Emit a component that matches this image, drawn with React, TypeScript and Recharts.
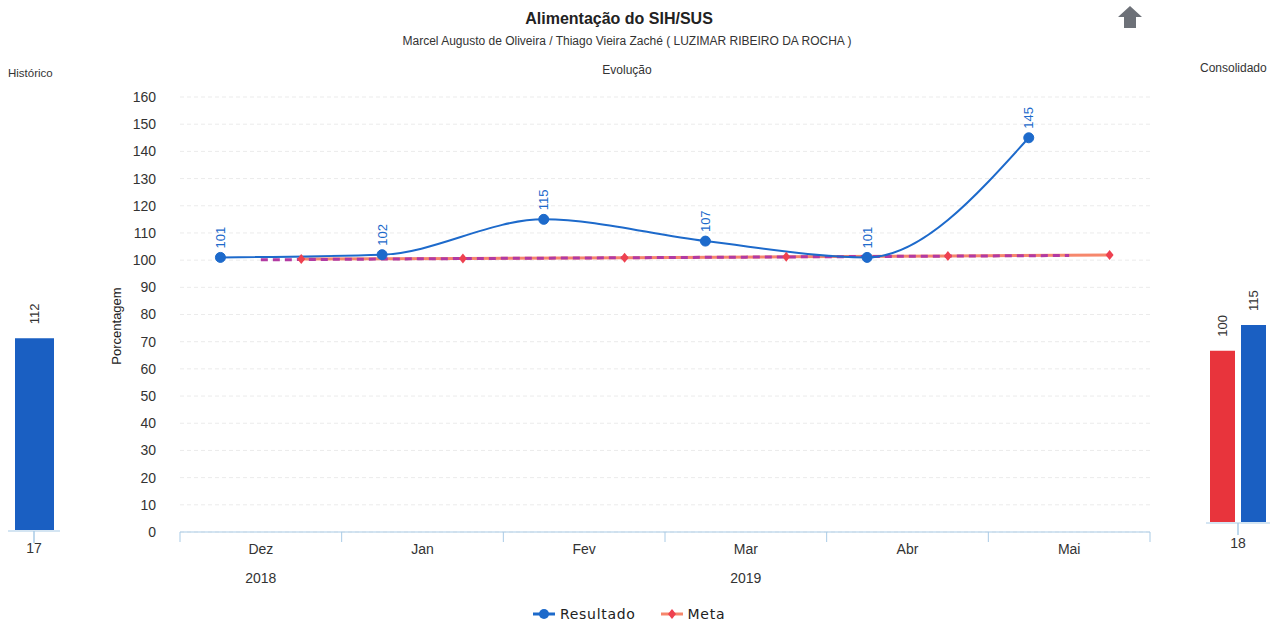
import { LineChart, Line, BarChart, Bar, XAxis, YAxis, CartesianGrid } from 'recharts'

const months = ['Dez', 'Jan', 'Fev', 'Mar', 'Abr', 'Mai']
const years = ['2018', '2019']
const yearAt = [0.5, 3.5]
const resultado = [101, 102, 115, 107, 101, 145]
const meta = [100.4, 100.6, 100.9, 101.2, 101.5, 101.9]
const metaTrend = [100.1, 100.5, 100.8, 101.1, 101.4, 101.7]
const yTicks = [0, 10, 20, 30, 40, 50, 60, 70, 80, 90, 100, 110, 120, 130, 140, 150, 160]
const xTicks = [0, 0.5, 1, 1.5, 2, 2.5, 3, 3.5, 4, 4.5, 5, 5.5, 6]

const historicoLabel = '17'
const historicoValue = 112
const consolidadoLabel = '18'
const consolidadoMeta = 100
const consolidadoResultado = 115

// resultado sits in the left quarter of each month band, meta in the right quarter
const resultadoData = resultado.map((v, i) => ({ x: i + 0.25, v }))
const metaData = meta.map((v, i) => ({ x: i + 0.75, v }))
const trendData = metaTrend.map((v, i) => ({ x: i + 0.5, v }))

const FONT = '"Liberation Sans", Arial, sans-serif'
const BLUE = '#1d6acb'
const AXIS = '#a9cbe6'

// integer ticks are band edges (tick mark only), half ticks carry month / year text
const MonthTick = (props: any) => {
  const { x, y, payload } = props
  const v = payload.value as number
  if (Number.isInteger(v)) {
    return <line x1={x} y1={y} x2={x} y2={y + 10} stroke={AXIS} />
  }
  const yi = yearAt.indexOf(v)
  return (
    <g fontFamily={FONT} fontSize={14} fill="#333">
      <text x={x} y={y + 22} textAnchor="middle">
        {months[Math.floor(v)]}
      </text>
      {yi >= 0 && (
        <text x={x} y={y + 51} textAnchor="middle">
          {years[yi]}
        </text>
      )}
    </g>
  )
}

const Diamond = (props: any) => {
  const { cx, cy, index } = props
  return (
    <path
      key={`d-${index}`}
      d={`M${cx},${cy - 5} L${cx + 4},${cy} L${cx},${cy + 5} L${cx - 4},${cy} Z`}
      fill="#ee4150"
    />
  )
}

const PointLabel = (props: any) => {
  const { x, y, value, index } = props
  return (
    <text
      key={`l-${index}`}
      x={x}
      y={y - 9}
      transform={`rotate(-90 ${x} ${y - 9})`}
      textAnchor="start"
      dominantBaseline="central"
      fill={BLUE}
      fontSize={13}
      fontFamily={FONT}
    >
      {value}
    </text>
  )
}

const BarTopLabel = (props: any) => {
  const { x, y, width, value } = props
  const cx = x + width / 2
  const ty = y - 14
  return (
    <text
      x={cx}
      y={ty}
      transform={`rotate(-90 ${cx} ${ty})`}
      textAnchor="start"
      dominantBaseline="central"
      fill="#333"
      fontSize={13}
      fontFamily={FONT}
    >
      {value}
    </text>
  )
}

function Evolucao() {
  return (
    <LineChart
      width={1170}
      height={626}
      margin={{ top: 97, right: 20, bottom: 93, left: 100 }}
      style={{ position: 'absolute', left: 0, top: 0 }}
    >
      <CartesianGrid xAxisId="main" vertical={false} stroke="#ebebeb" strokeDasharray="4 3" />
      <XAxis
        xAxisId="main"
        type="number"
        dataKey="x"
        domain={[0, 6]}
        ticks={xTicks}
        interval={0}
        tick={MonthTick}
        tickLine={false}
        tickSize={0}
        tickMargin={0}
        stroke={AXIS}
        height={1}
      />
      <YAxis
        domain={[0, 160]}
        ticks={yTicks}
        width={80}
        axisLine={false}
        tickLine={false}
        tickSize={0}
        tickMargin={24}
        tick={{ fill: '#333', fontSize: 14, fontFamily: FONT }}
      />
      <Line
        xAxisId="main"
        data={metaData}
        dataKey="v"
        type="linear"
        stroke="#f6876c"
        strokeWidth={3}
        dot={Diamond}
        activeDot={false}
        isAnimationActive={false}
      />
      <Line
        xAxisId="main"
        data={trendData}
        dataKey="v"
        type="linear"
        stroke="#b23aa2"
        strokeWidth={3}
        strokeDasharray="7 5"
        dot={false}
        activeDot={false}
        isAnimationActive={false}
      />
      <Line
        xAxisId="main"
        data={resultadoData}
        dataKey="v"
        type="monotone"
        stroke={BLUE}
        strokeWidth={2}
        dot={{ r: 5, fill: BLUE, stroke: BLUE, strokeWidth: 1 }}
        activeDot={false}
        label={PointLabel}
        isAnimationActive={false}
      />
    </LineChart>
  )
}

function Historico() {
  const data = [{ label: historicoLabel, v: historicoValue }]
  return (
    <BarChart
      width={70}
      height={626}
      data={data}
      margin={{ top: 256, right: 10, bottom: 94, left: 8 }}
      style={{ position: 'absolute', left: 0, top: 0 }}
    >
      <XAxis
        xAxisId="edge"
        type="number"
        domain={[0, 1]}
        ticks={[0, 1]}
        tickFormatter={() => ''}
        tickSize={12}
        stroke={AXIS}
        height={1}
      />
      <XAxis
        xAxisId="cat"
        dataKey="label"
        tickLine={false}
        axisLine={false}
        tickSize={0}
        tickMargin={13}
        height={1}
        tick={{ fill: '#333', fontSize: 14, fontFamily: FONT }}
      />
      <YAxis hide domain={[0, 160]} />
      <Bar xAxisId="cat" dataKey="v" fill="#1a5fc2" barSize={39} label={BarTopLabel} isAnimationActive={false} />
    </BarChart>
  )
}

function Consolidado() {
  const data = [{ label: consolidadoLabel, meta: consolidadoMeta, res: consolidadoResultado }]
  return (
    <BarChart
      width={90}
      height={626}
      data={data}
      barGap={6}
      barCategoryGap={4}
      margin={{ top: 248, right: 10, bottom: 102, left: 16 }}
      style={{ position: 'absolute', left: 1190, top: 0 }}
    >
      <XAxis
        xAxisId="edge"
        type="number"
        domain={[0, 1]}
        ticks={[0, 1]}
        tickFormatter={() => ''}
        tickSize={12}
        stroke={AXIS}
        height={1}
      />
      <XAxis
        xAxisId="cat"
        dataKey="label"
        tickLine={false}
        axisLine={false}
        tickSize={0}
        tickMargin={16}
        height={1}
        tick={{ fill: '#333', fontSize: 14, fontFamily: FONT }}
      />
      <YAxis hide domain={[0, 160]} />
      <Bar xAxisId="cat" dataKey="meta" fill="#e8343c" label={BarTopLabel} isAnimationActive={false} />
      <Bar xAxisId="cat" dataKey="res" fill="#1a5fc2" label={BarTopLabel} isAnimationActive={false} />
    </BarChart>
  )
}

function LegendItem({ color, name, diamond }: { color: string; name: string; diamond?: boolean }) {
  return (
    <span style={{ display: 'inline-flex', alignItems: 'center', marginRight: 25 }}>
      <svg width={22} height={12} style={{ marginRight: 5 }}>
        <line x1={0} y1={6} x2={22} y2={6} stroke={color} strokeWidth={3} />
        {diamond ? (
          <path d="M11,1 L15,6 L11,11 L7,6 Z" fill="#ee4150" />
        ) : (
          <circle cx={11} cy={6} r={5} fill={color} />
        )}
      </svg>
      <span style={{ fontFamily: '"DejaVu Sans", sans-serif', fontSize: 14, letterSpacing: 0.7, color: '#222' }}>
        {name}
      </span>
    </span>
  )
}

export default function App() {
  return (
    <div style={{ position: 'absolute', left: 0, top: 0, width: 1280, height: 626, background: '#fff', overflow: 'hidden' }}>
      <Historico />
      <Evolucao />
      <Consolidado />
      <svg width={1280} height={626} style={{ position: 'absolute', left: 0, top: 0, pointerEvents: 'none' }}>
        <g fontFamily={FONT} fill="#222">
          <text x={619} y={24} textAnchor="middle" fontSize={16} fontWeight="bold">
            Alimentação do SIH/SUS
          </text>
          <text x={627} y={45} textAnchor="middle" fontSize={12} fill="#333">
            Marcel Augusto de Oliveira / Thiago Vieira Zaché ( LUZIMAR RIBEIRO DA ROCHA )
          </text>
          <text x={627} y={74} textAnchor="middle" fontSize={12} fill="#333">
            Evolução
          </text>
          <text x={8} y={77} fontSize={11.5} fill="#333">
            Histórico
          </text>
          <text x={1200} y={72} fontSize={12} fill="#333">
            Consolidado
          </text>
          <text x={116} y={326} transform="rotate(-90 116 326)" textAnchor="middle" dominantBaseline="central" fontSize={13} fill="#222">
            Porcentagem
          </text>
        </g>
        <path d="M1130,6 L1142,17 L1136,17 L1136,28 L1124,28 L1124,17 L1118,17 Z" fill="#6d7178" />
      </svg>
      <div style={{ position: 'absolute', left: 533, top: 606, display: 'flex', alignItems: 'center' }}>
        <LegendItem color={BLUE} name="Resultado" />
        <LegendItem color="#f6876c" name="Meta" diamond />
      </div>
    </div>
  )
}
